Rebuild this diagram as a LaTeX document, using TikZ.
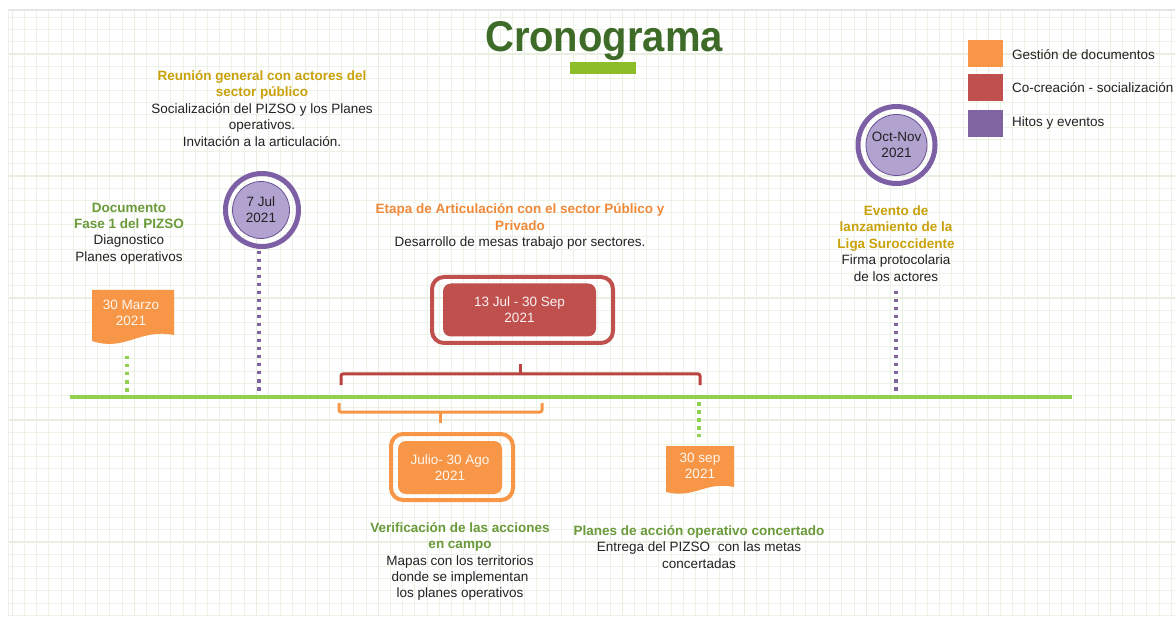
\documentclass[tikz,border=0pt]{standalone}
\usepackage{fontspec}
\usepackage{graphicx}
\setmainfont{Liberation Sans}
\definecolor{cOrange}{HTML}{F79646}
\definecolor{cRed}{HTML}{C0504D}
\definecolor{cPurple}{HTML}{8064A2}
\definecolor{cRing}{HTML}{7D5FA6}
\definecolor{cLav}{HTML}{B1A2D0}
\definecolor{cDPurple}{HTML}{6B5295}
\definecolor{cLine}{HTML}{92D050}
\definecolor{cTitle}{HTML}{3E6B27}
\definecolor{cBar}{HTML}{8DBE2A}
\definecolor{cGold}{HTML}{C9A10A}
\definecolor{cGreenH}{HTML}{6A9A3A}
\definecolor{cOrangeH}{HTML}{F0893A}
\definecolor{cTxt}{HTML}{222222}
\definecolor{cGridA}{HTML}{EDF2E6}
\definecolor{cGridB}{HTML}{E9EEE1}
\definecolor{cBrR}{HTML}{B8433F}
\newcommand{\hdg}[2]{\textcolor{#1}{\bfseries #2}}
\tikzset{
  txt/.style={align=center, font=\fontsize{13.5}{16.4}\selectfont, text=cTxt, inner sep=0pt},
  flagtxt/.style={align=center, font=\fontsize{13.5}{16}\selectfont, text=white!92!cOrange, inner sep=0pt},
  boxtxt/.style={align=center, font=\fontsize{13.5}{16}\selectfont, text=white!92!cOrange},
  dotG/.style={draw=cLine, line width=3.5pt, dash pattern=on 3.5pt off 4.5pt},
  dotP/.style={draw=cPurple, line width=3.5pt, dash pattern=on 3.5pt off 4.5pt},
  ring/.style={circle, draw=cRing, line width=5pt, inner sep=0pt},
  disc/.style={circle, fill=cLav, draw=cDPurple, line width=0.8pt, inner sep=0pt, align=center, font=\fontsize{13.5}{16}\selectfont, text=cTxt},
  brR/.style={draw=cBrR, line width=3pt, rounded corners=2pt},
  brO/.style={draw=cOrange, line width=3pt, rounded corners=2pt},
  legsq/.style={minimum width=35pt, minimum height=27pt, inner sep=0pt},
  legtxt/.style={anchor=west, font=\fontsize{13.5}{15}\selectfont, text=cTxt, inner sep=0pt},
}
\begin{document}
\begin{tikzpicture}[x=1pt,y=-1pt]
\useasboundingbox (0,0) rectangle (1175,617);
\fill[white] (0,0) rectangle (1175,617);
% grid
\foreach \k in {1,...,96} {\draw[cGridA, line width=1pt] (12.2*\k,10) -- (12.2*\k,615);}
\foreach \k in {1,...,50} {\draw[cGridA, line width=1pt] (8,5.2+12.2*\k) -- (1175,5.2+12.2*\k);}
\foreach \k in {1,11,...,91} {\draw[cGridB, line width=1.2pt] (12.2*\k,10) -- (12.2*\k,615);}
\foreach \k in {4,14,...,44} {\draw[cGridB, line width=1.2pt] (8,5.2+12.2*\k) -- (1175,5.2+12.2*\k);}
\draw[black!10, line width=1.5pt] (8,10) -- (1175,10);
\draw[black!6, line width=1pt] (8,10) -- (8,615);

% title
\node[anchor=base, font=\fontsize{43}{50}\selectfont\bfseries, text=cTitle, inner sep=0pt] (title) at (604,52) {\scalebox{0.93}[1]{Cronograma}};
\fill[cBar] (570,62) rectangle (636,74);

% legend
\node[legsq, fill=cOrange] (l1) at (985.5,53.5) {};
\node[legsq, fill=cRed] (l2) at (985.5,88) {};
\node[legsq, fill=cPurple] (l3) at (985.5,123.5) {};
\node[legtxt] (t1) at (1012,55) {Gestión de documentos};
\node[legtxt] (t2) at (1012,88) {Co-creación - socialización};
\node[legtxt] (t3) at (1012,123) {Hitos y eventos};

% timeline
\coordinate (tlA) at (70,397);
\coordinate (tlB) at (1072,397);
\draw[cLine, line width=4pt] (tlA) -- (tlB);

% 30 Marzo
\node[txt] (doc) at (129,233.5) {\hdg{cGreenH}{Documento}\\\hdg{cGreenH}{Fase 1 del PIZSO}\\Diagnostico\\Planes operativos};
\fill[cOrange] (92,290) -- (174,290) -- (174,335) .. controls (140,328) and (125,352) .. (92,341) -- cycle;
\node[flagtxt] (marzo) at (131,313) {30 Marzo\\2021};
\coordinate (m1) at (127,356);
\coordinate (m2) at (127,393);
\draw[dotG] (m1) -- (m2);

% 7 Jul
\node[txt] (reunion) at (262,108.5) {\hdg{cGold}{Reunión general con actores del}\\\hdg{cGold}{sector público}\\Socialización del PIZSO y los Planes\\operativos.\\Invitación a la articulación.};
\node[ring, minimum size=73pt] (julring) at (262,210) {};
\node[disc, minimum size=57pt] (jul) at (261,210) {7 Jul\\2021};
\coordinate (j1) at (259,251);
\coordinate (j2) at (259,395);
\draw[dotP] (j1) -- (j2);

% Etapa de articulacion
\node[txt] (etapa) at (520,226.5) {\hdg{cOrangeH}{Etapa de Articulación con el sector Público y}\\\hdg{cOrangeH}{Privado}\\Desarrollo de mesas trabajo por sectores.};
\node[draw=cRed, line width=4pt, rounded corners=12pt, minimum width=181pt, minimum height=66pt] (redout) at (522.5,310) {};
\node[fill=cRed, rounded corners=8pt, minimum width=153pt, minimum height=53pt, align=center, font=\fontsize{13.5}{16}\selectfont, text=white!92!cRed] (redin) at (519.5,310) {13 Jul - 30 Sep\\2021};
\draw[brR] (341,385) -- (341,374) -- (700,374) -- (700,385);
\draw[brR] (520,374) -- (520,364);

% Julio - 30 Ago
\draw[brO] (339,403) -- (339,412) -- (542,412) -- (542,403);
\draw[brO] (440,412) -- (440,423);
\node[draw=cOrange, line width=4pt, rounded corners=12pt, minimum width=122pt, minimum height=66pt] (orout) at (452,467) {};
\node[fill=cOrange, rounded corners=8pt, minimum width=104pt, minimum height=53pt, boxtxt] (orin) at (450,467.5) {Julio- 30 Ago\\2021};
\node[txt] (verif) at (460,561.5) {\hdg{cGreenH}{Verificación de las acciones}\\\hdg{cGreenH}{en campo}\\Mapas con los territorios\\donde se implementan\\los planes operativos};

% 30 sep
\coordinate (s1) at (699,402);
\coordinate (s2) at (699,437);
\draw[dotG] (s1) -- (s2);
\fill[cOrange] (666,446) -- (734,446) -- (734,487) .. controls (705,481) and (695,499) .. (666,492) -- cycle;
\node[flagtxt] (sep) at (700,466) {30 sep\\2021};
\node[txt] (planes) at (699,547) {\hdg{cGreenH}{Planes de acción operativo concertado}\\Entrega del PIZSO\ \ con las metas\\concertadas};

% Oct-Nov
\node[ring, minimum size=77pt] (octring) at (896.5,145) {};
\node[disc, minimum size=61pt] (oct) at (896.5,145) {Oct-Nov\\2021};
\node[txt] (evento) at (896,243.5) {\hdg{cGold}{Evento de}\\\hdg{cGold}{lanzamiento de la}\\\hdg{cGold}{Liga Suroccidente}\\Firma protocolaria\\de los actores};
\coordinate (o1) at (896,291);
\coordinate (o2) at (896,393);
\draw[dotP] (o1) -- (o2);
\end{tikzpicture}
\end{document}
